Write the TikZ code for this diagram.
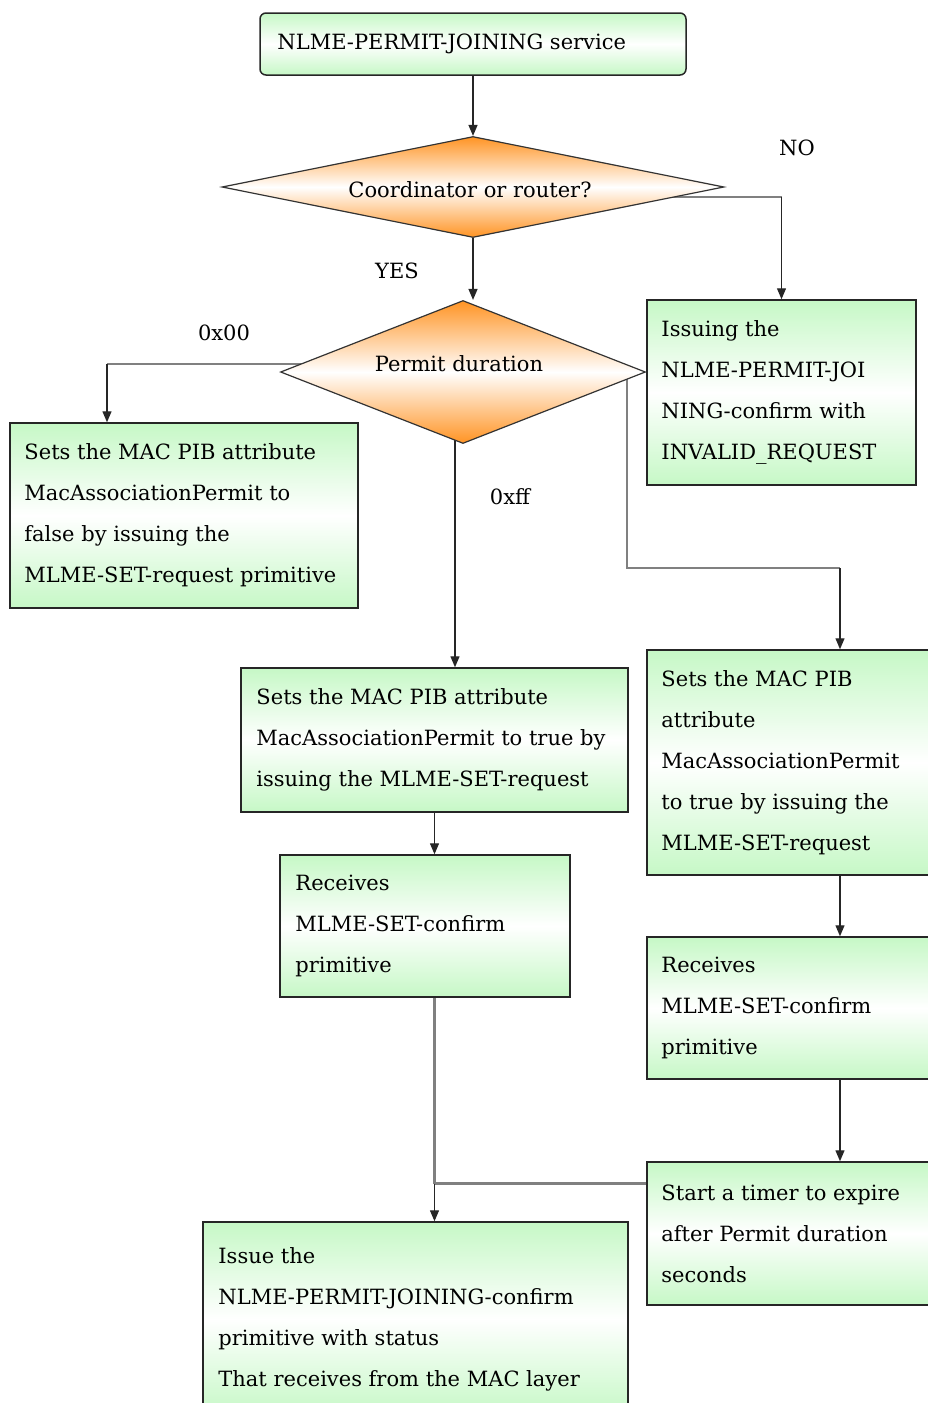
\documentclass[tikz,border=0pt]{standalone}
\usepackage{fontspec}
\setmainfont{DejaVu Serif}
\newfontfamily\flowfont{DejaVu Serif}
\usetikzlibrary{shapes.geometric,arrows.meta,calc,backgrounds}
\definecolor{boxgreen}{RGB}{198,248,198}
\definecolor{diaorange}{RGB}{255,148,36}
\definecolor{wiregray}{RGB}{128,128,128}
\begin{document}
\begin{tikzpicture}[x=1pt,y=-1pt,
  every node/.style={font=\flowfont\fontsize{21}{41}\selectfont},
  stepbox/.style={rectangle, draw=black!85, line width=1.5pt,
    top color=boxgreen, bottom color=boxgreen, middle color=white, inner sep=0pt},
  decision/.style={diamond, draw=black!80, line width=1.2pt,
    top color=diaorange, bottom color=diaorange, middle color=white, inner sep=0pt},
  boxtext/.style={anchor=west, align=left, inner sep=0pt},
  tag/.style={inner sep=0pt},
  wire/.style={draw=wiregray, line width=2.2pt},
  arrowline/.style={draw=black!85, line width=1.3pt, -{Triangle[length=11pt,width=9pt]}}
]
\useasboundingbox (0,0) rectangle (928,1403);
\clip (0,0) rectangle (928,1403);

% start node
\node[stepbox, rounded corners=6pt, minimum width=426pt, minimum height=62pt] (top) at (473,44) {};
\node[boxtext] (toptext) at ($(top.west)+(18,0)$) {NLME-PERMIT-JOINING service};

% decisions
\node[decision, minimum width=502pt, minimum height=101pt, aspect=5] (d1) at (473,187) {};
\node[tag] (d1text) at (470,190) {Coordinator or router?};
\node[decision, minimum width=365pt, minimum height=143pt, aspect=2.5] (d2) at (463,372) {};
\node[tag] (d2text) at (459,364) {Permit duration};

% process boxes
\node[stepbox, minimum width=348pt, minimum height=185pt] (l1) at (184,515.5) {};
\node[boxtext] (l1text) at ($(l1.west)+(15,0)$) {Sets the MAC PIB attribute\\MacAssociationPermit to\\false by issuing the\\MLME-SET-request primitive};

\node[stepbox, minimum width=269pt, minimum height=185pt] (r1) at (781.5,392.5) {};
\node[boxtext] (r1text) at ($(r1.west)+(15,0)$) {Issuing the\\NLME-PERMIT-JOI\\NING-confirm with\\INVALID\_REQUEST};

\node[stepbox, minimum width=387pt, minimum height=144pt] (m1) at (434.5,740) {};
\node[boxtext] (m1text) at ($(m1.west)+(16,0)$) {Sets the MAC PIB attribute\\MacAssociationPermit to true by\\issuing the MLME-SET-request};

\node[stepbox, minimum width=290pt, minimum height=142pt] (m2) at (425,926) {};
\node[boxtext] (m2text) at ($(m2.west)+(16,0)$) {Receives\\MLME-SET-confirm\\primitive};

\node[stepbox, minimum width=425pt, minimum height=194pt] (m3) at (415.5,1319) {};
\node[boxtext] (m3text) at ($(m3.west)+(16,0)$) {Issue the\\NLME-PERMIT-JOINING-confirm\\primitive with status\\That receives from the MAC layer};

\node[stepbox, minimum width=386pt, minimum height=225pt] (r2) at (840,762.5) {};
\node[boxtext] (r2text) at ($(r2.west)+(15,0)$) {Sets the MAC PIB\\attribute\\MacAssociationPermit\\to true by issuing the\\MLME-SET-request};

\node[stepbox, minimum width=386pt, minimum height=142pt] (r3) at (840,1008) {};
\node[boxtext] (r3text) at ($(r3.west)+(15,0)$) {Receives\\MLME-SET-confirm\\primitive};

\node[stepbox, minimum width=386pt, minimum height=143pt] (r4) at (840,1233.5) {};
\node[boxtext] (r4text) at ($(r4.west)+(15,0)$) {Start a timer to expire\\after Permit duration\\seconds};

% branch labels
\node[tag] (lno) at (797,148) {NO};
\node[tag] (lyes) at (397,271) {YES};
\node[tag] (lzero) at (224,333) {0x00};
\node[tag] (lff) at (510,497) {0xff};

% connectors
\begin{scope}[on background layer]
  \draw[arrowline] (top.south) -- (d1.north);
  \draw[arrowline] (d1.south) -- (d1.south |- d2.north);

  % NO branch
  \coordinate (j0) at ($(d1.center)+(0,10)$);
  \draw[wire] (j0) -- (j0 -| r1.north) coordinate (k0);
  \draw[arrowline] (k0) -- (r1.north);

  % 0x00 branch
  \coordinate (j1) at ($(d2.center)+(0,-8)$);
  \coordinate (a1) at ($(l1.north)+(-77,0)$);
  \draw[wire] (j1) -- (j1 -| a1) coordinate (k1);
  \draw[arrowline] (k1) -- (a1);

  % 0xff branch
  \coordinate (j2) at ($(d2.center)+(-8,0)$);
  \draw[arrowline] (j2) -- (j2 |- m1.north);

  % other durations
  \coordinate (j3) at ($(d2.center)+(164,0)$);
  \coordinate (k3) at ($(j3)+(0,196)$);
  \draw[wire] (j3) -- (k3) -- (k3 -| r2.north) coordinate (k3b);
  \draw[arrowline] (k3b) -- (r2.north);

  \draw[arrowline] (m1.south) -- (m1.south |- m2.north);
  \draw[arrowline] (r2.south) -- (r3.north);
  \draw[arrowline] (r3.south) -- (r4.north);

  % join towards the confirm box
  \coordinate (k4) at ($(r4.west)+(0,-50)$);
  \draw[wire] (m1.south |- m2.south) -- (m1.south |- k4) coordinate (k5);
  \draw[wire] (k4) -- (k5);
  \draw[arrowline] (k5) -- (m1.south |- m3.north);
\end{scope}
\end{tikzpicture}
\end{document}
